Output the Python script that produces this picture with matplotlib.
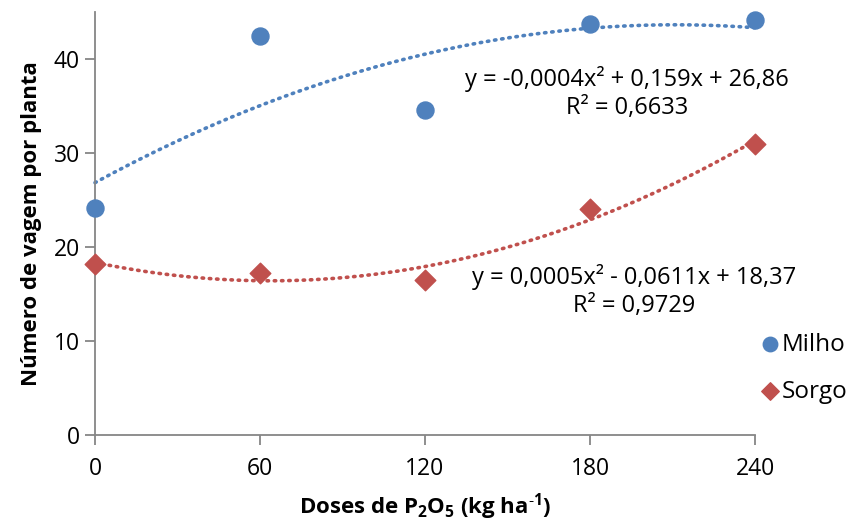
import numpy as np
import matplotlib
matplotlib.use("Agg")
import matplotlib.pyplot as plt

plt.rcParams['font.family'] = ['Open Sans', 'DejaVu Sans']

doses = [0, 60, 120, 180, 240]
milho = [24.1, 42.5, 34.6, 43.7, 44.1]
sorgo = [18.2, 17.2, 16.5, 24.0, 31.0]
xticks = [0, 60, 120, 180, 240]
yticks = [0, 10, 20, 30, 40]
eq_milho = "y = -0,0004x² + 0,159x + 26,86\nR² = 0,6633"
eq_sorgo = "y = 0,0005x² - 0,0611x + 18,37\nR² = 0,9729"

blue = '#4F81BD'
red = '#C0504D'
gray = '#868686'

fig = plt.figure(figsize=(8.47, 5.22), dpi=100)
ax = fig.add_axes([95/847, 87/522, 660/847, 423/522])

xs = np.linspace(0, 240, 200)
for data, c in [(milho, blue), (sorgo, red)]:
    p = np.polyfit(doses, data, 2)
    ax.plot(xs, np.polyval(p, xs), color=c, lw=2.6, ls=(0, (0.4, 1.6)),
            dash_capstyle='round', zorder=2, clip_on=False)

ax.scatter(doses, milho, s=150, marker='o', color=blue, zorder=3, clip_on=False, label='Milho')
ax.scatter(doses, sorgo, s=110, marker='D', color=red, zorder=3, clip_on=False, label='Sorgo')

ax.set_xlim(0, 240)
ax.set_ylim(0, 45)
ax.set_xticks(xticks)
ax.set_yticks(yticks)
ax.tick_params(axis='both', labelsize=16.5, color=gray, length=7, width=1.3, direction='out')
ax.tick_params(axis='x', pad=9)
ax.tick_params(axis='y', pad=4)
for s in ['top', 'right']:
    ax.spines[s].set_visible(False)
for s in ['left', 'bottom']:
    ax.spines[s].set_color(gray)
    ax.spines[s].set_linewidth(1.3)

ax.set_xlabel('Doses de P$_\\mathregular{2}$O$_\\mathregular{5}$ (kg ha$^\\mathregular{\u20101}$)',
              fontsize=16, fontweight='bold', labelpad=7)
ax.set_ylabel('Número de vagem por planta', fontsize=16, fontweight='bold', labelpad=8)

ax.text(193.5, 36.4, eq_milho, ha='center', va='center', fontsize=17, linespacing=1.2)
ax.text(196, 15.3, eq_sorgo, ha='center', va='center', fontsize=17, linespacing=1.2)

leg = ax.legend(loc='center left', bbox_to_anchor=(1.0, 0.158), frameon=False, fontsize=17.5,
                handletextpad=-0.1, labelspacing=0.95, borderaxespad=0.0, handlelength=1.2,
                borderpad=0.0, markerscale=0.85)

fig.savefig('out.png', dpi=100)
